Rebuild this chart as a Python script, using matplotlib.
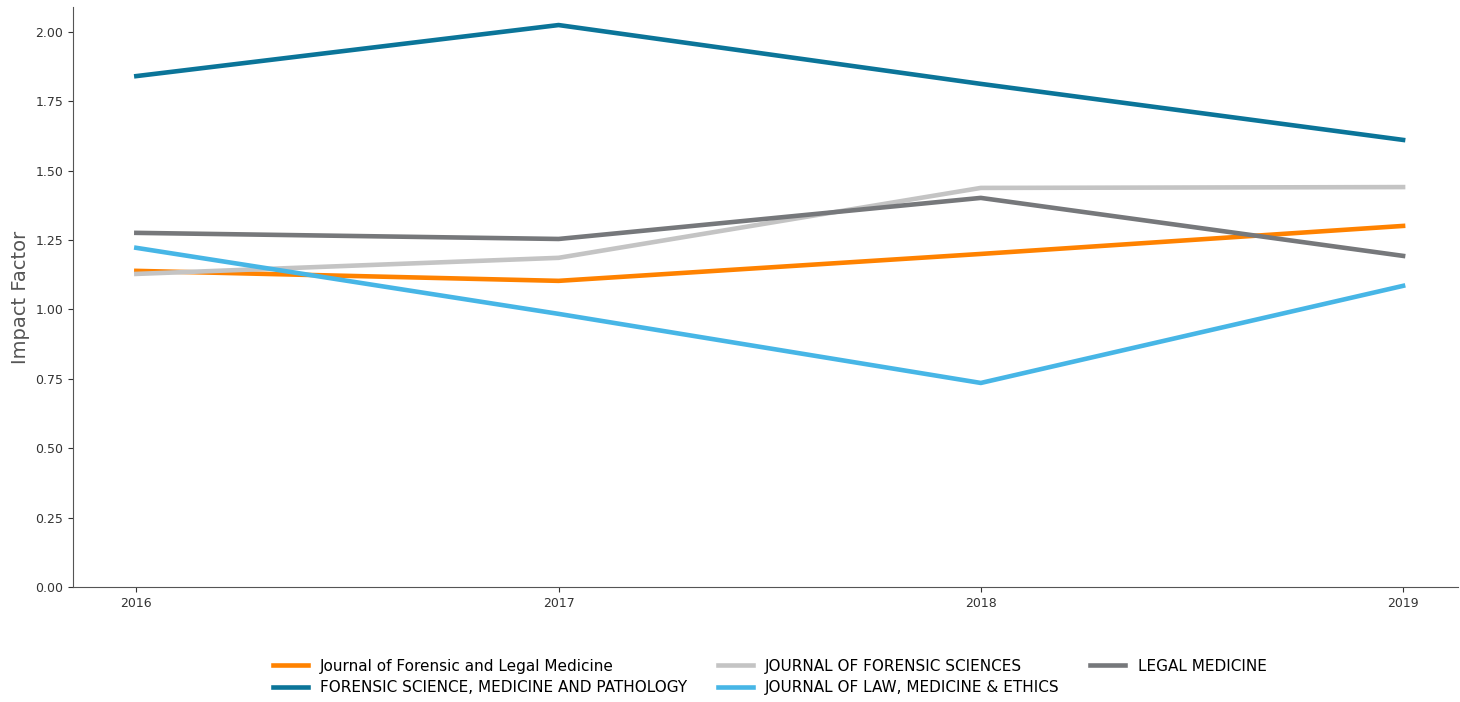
import matplotlib
matplotlib.use("Agg")
import matplotlib.pyplot as plt

years = [2016, 2017, 2018, 2019]

jflm = [1.139, 1.103, 1.200, 1.301]
fsmp = [1.841, 2.025, 1.813, 1.611]
jfs = [1.128, 1.186, 1.438, 1.441]
jlme = [1.222, 0.984, 0.735, 1.085]
legal = [1.276, 1.254, 1.402, 1.193]

series = [
    ("Journal of Forensic and Legal Medicine", jflm, "#ff8200"),
    ("FORENSIC SCIENCE, MEDICINE AND PATHOLOGY", fsmp, "#0b7599"),
    ("JOURNAL OF FORENSIC SCIENCES", jfs, "#c4c4c4"),
    ("JOURNAL OF LAW, MEDICINE & ETHICS", jlme, "#47b6e6"),
    ("LEGAL MEDICINE", legal, "#76787b"),
]

fig = plt.figure(figsize=(14.6, 7.02), dpi=100)
ax = fig.add_axes([0.05, 0.164, 0.9486, 0.826])

for name, vals, col in series:
    ax.plot(years, vals, color=col, lw=3.3, label=name)

ax.set_xlim(2015.85, 2019.13)
ax.set_ylim(0, 2.09)
ax.set_xticks(years)
ax.set_yticks([0, 0.25, 0.5, 0.75, 1.0, 1.25, 1.5, 1.75, 2.0])
ax.set_yticklabels(["%.2f" % v for v in ax.get_yticks()])
ax.tick_params(labelsize=9, colors="#333333")
for s in ["top", "right"]:
    ax.spines[s].set_visible(False)
for s in ["left", "bottom"]:
    ax.spines[s].set_color("#555555")
ax.set_ylabel("Impact Factor", fontsize=14, color="#555555")

ax.legend(loc="upper center", bbox_to_anchor=(0.503, -0.1), ncol=3,
          frameon=False, fontsize=11, handlelength=2.3, columnspacing=2.0,
          labelspacing=0.45)

fig.savefig("out.png", dpi=100)
